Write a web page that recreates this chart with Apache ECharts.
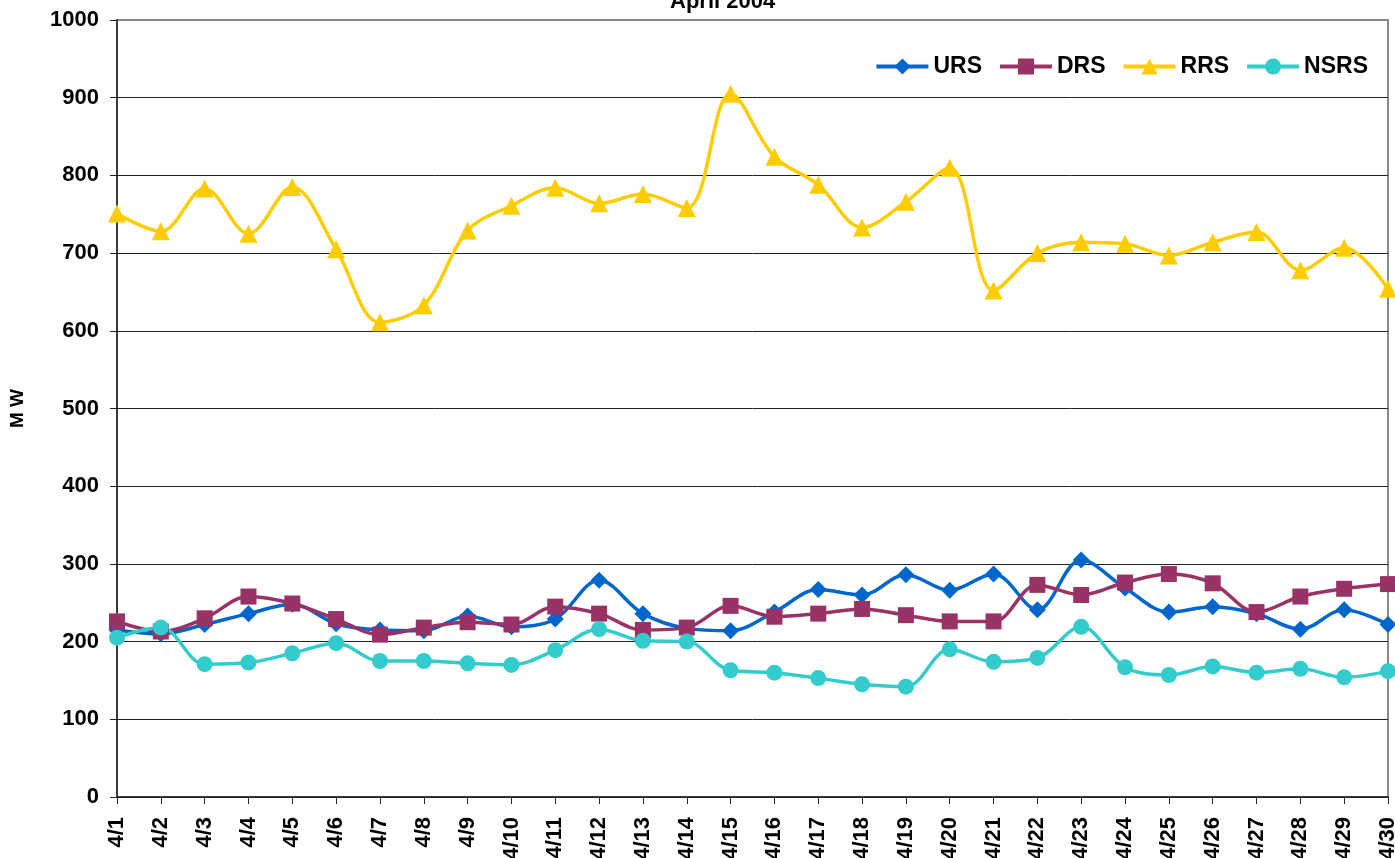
<!DOCTYPE html>
<html>
<head>
<meta charset="utf-8">
<script src="https://cdn.jsdelivr.net/npm/echarts@6/dist/echarts.min.js"></script>
<style>
  html, body { margin: 0; padding: 0; background: #fff; }
  #main { width: 1395px; height: 858px; }
</style>
</head>
<body>
<div id="main"></div>
<script>
var days = ['4/1','4/2','4/3','4/4','4/5','4/6','4/7','4/8','4/9','4/10',
  '4/11','4/12','4/13','4/14','4/15','4/16','4/17','4/18','4/19','4/20',
  '4/21','4/22','4/23','4/24','4/25','4/26','4/27','4/28','4/29','4/30'];

var urs = [215, 210, 222, 236, 248, 223, 215, 214, 233, 219,
  229, 279, 236, 217, 214, 238, 267, 260, 286, 266,
  287, 241, 305, 269, 238, 245, 236, 216, 241, 222];

var drs = [226, 213, 230, 258, 249, 229, 209, 218, 225, 222,
  245, 236, 215, 218, 246, 232, 236, 242, 234, 226,
  226, 273, 260, 276, 287, 275, 238, 258, 268, 274];

var rrs = [751, 728, 783, 725, 785, 705, 611, 633, 729, 761,
  784, 764, 776, 758, 905, 824, 788, 733, 766, 810,
  652, 700, 714, 712, 697, 714, 727, 678, 707, 654];

var nsrs = [205, 218, 171, 173, 185, 198, 175, 175, 172, 170,
  189, 216, 201, 200, 163, 160, 153, 145, 142, 190,
  174, 179, 219, 167, 157, 168, 160, 165, 154, 162];

var chartDom = document.getElementById('main');
var myChart = echarts.init(chartDom);
var font = 'Liberation Sans, Arial, sans-serif';

function line(name, data, color, symbol, size) {
  return {
    name: name,
    type: 'line',
    data: data,
    smooth: 0.35,
    symbol: symbol,
    symbolSize: size,
    lineStyle: { color: color, width: 3.5 },
    itemStyle: { color: color },
  };
}

var option = {
  animation: false,
  title: {
    text: 'April 2004',
    left: 665,
    top: -14,
    textStyle: { fontFamily: font, fontSize: 22, fontWeight: 'bold', color: '#000' },
  },
  legend: {
    right: 22,
    top: 50,
    itemWidth: 52,
    itemHeight: 20,
    itemGap: 16,
    lineStyle: { width: 4 },
    textStyle: { fontFamily: font, fontSize: 23, fontWeight: 'bold', color: '#000' },
    data: ['URS', 'DRS', 'RRS', 'NSRS'],
  },
  grid: {
    left: 117,
    right: 7,
    top: 20,
    bottom: 61,
    containLabel: false,
    outerBoundsMode: 'none',
    show: true,
    borderColor: '#888',
    borderWidth: 2,
  },
  xAxis: {
    type: 'category',
    data: days,
    boundaryGap: false,
    axisLine: { lineStyle: { color: '#222', width: 1.5 } },
    axisTick: { show: true, length: 7, lineStyle: { color: '#222' } },
    axisLabel: {
      rotate: 90,
      margin: 20,
      interval: 0,
      color: '#000',
      fontFamily: font,
      fontSize: 22,
      fontWeight: 'bold',
    },
  },
  yAxis: {
    type: 'value',
    min: 0,
    max: 1000,
    interval: 100,
    name: 'M W',
    nameLocation: 'middle',
    nameGap: 90,
    nameTextStyle: { fontFamily: font, fontSize: 19, fontWeight: 'bold', color: '#000' },
    axisLine: { show: true, lineStyle: { color: '#222', width: 1.5 } },
    axisTick: { show: true, length: 7, lineStyle: { color: '#222' } },
    axisLabel: {
      margin: 18,
      color: '#000',
      fontFamily: font,
      fontSize: 22,
      fontWeight: 'bold',
      formatter: function (v) { return String(v); },
    },
    splitLine: {
      lineStyle: {
        color: ['#222','#222','#222','#222','#222','#222','#222','#222','#222','#222','#888'],
        width: 1,
      },
    },
  },
  series: [
    line('URS', urs, '#0066CC', 'diamond', 17),
    line('DRS', drs, '#993366', 'rect', 16),
    line('RRS', rrs, '#FFCC00', 'triangle', 18),
    line('NSRS', nsrs, '#33CCCC', 'circle', 16),
  ],
};

option && myChart.setOption(option);

window.onresize = function () {
  myChart.resize();
};
</script>
</body>
</html>
